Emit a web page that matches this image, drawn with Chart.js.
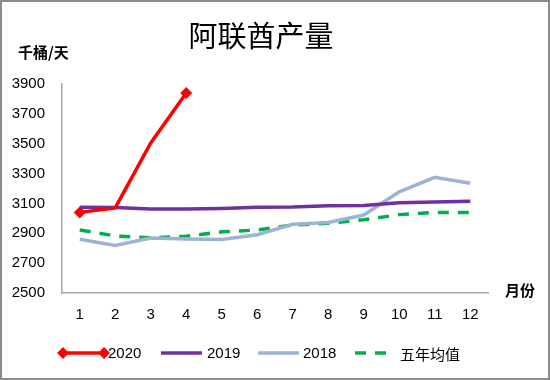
<!DOCTYPE html>
<html><head><meta charset="utf-8">
<script src="https://cdn.jsdelivr.net/npm/chart.js@4"></script>
<style>html,body{margin:0;padding:0;background:#fff}#w{width:550px;height:380px;position:relative}</style>
</head><body><div id="w"><canvas id="c" width="550" height="380"></canvas></div>
<script>
const months = ['1','2','3','4','5','6','7','8','9','10','11','12'];
const s2020 = [3040, 3070, 3505, 3840, null, null, null, null, null, null, null, null];
const s2019 = [3075, 3072, 3062, 3062, 3066, 3074, 3076, 3084, 3086, 3104, 3110, 3115];
const s2018 = [2860, 2818, 2868, 2862, 2858, 2890, 2960, 2972, 3022, 3178, 3275, 3235];
const sAvg = [2922, 2882, 2870, 2880, 2910, 2922, 2955, 2968, 2990, 3025, 3040, 3040];
const seriesNames = ['2020', '2019', '2018', '五年均值'];
const yTicks = [2500, 2700, 2900, 3100, 3300, 3500, 3700, 3900];

const CJK = '"Noto Sans CJK SC", sans-serif';
const LAT = '"Liberation Sans", Arial, sans-serif';

const deco = {
  id: 'deco',
  afterDraw(chart) {
    const ctx = chart.ctx;
    ctx.save();
    ctx.strokeStyle = '#8c8c8c'; ctx.lineWidth = 2;
    ctx.strokeRect(1, 1, 548, 378);
    ctx.fillStyle = '#000';
    ctx.textAlign = 'center'; ctx.textBaseline = 'middle';
    ctx.font = '29px ' + CJK;
    ctx.fillText('阿联酋产量', 261, 36);
    ctx.font = 'bold 15px ' + CJK;
    ctx.textAlign = 'left';
    ctx.fillText('千桶/天', 18, 52);
    ctx.fillText('月份', 505, 290);
    const ds = chart.data.datasets;
    const y = 353;
    const items = [[63, 104, 108], [161, 202, 207], [258, 299, 303], [355, 395, 400]];
    items.forEach((it, i) => {
      const d = ds[i];
      ctx.strokeStyle = d.borderColor; ctx.lineWidth = d.borderWidth;
      ctx.setLineDash(d.borderDash || []);
      ctx.lineCap = 'butt';
      ctx.beginPath(); ctx.moveTo(it[0], y); ctx.lineTo(it[1], y); ctx.stroke();
      ctx.setLineDash([]);
      if (i === 0) {
        ctx.fillStyle = d.borderColor;
        [it[0], it[1]].forEach(px => {
          ctx.beginPath(); ctx.moveTo(px, y - 6); ctx.lineTo(px + 6, y); ctx.lineTo(px, y + 6); ctx.lineTo(px - 6, y); ctx.closePath(); ctx.fill();
        });
      }
      ctx.fillStyle = '#000';
      ctx.font = (i === 3 ? '15px ' + CJK : '15px ' + LAT);
      ctx.textAlign = 'left'; ctx.textBaseline = 'middle';
      ctx.fillText(d.label, it[2], y + 1);
    });
    ctx.restore();
  }
};

new Chart(document.getElementById('c'), {
  type: 'line',
  data: {
    labels: months,
    datasets: [
      { label: seriesNames[0], data: s2020, borderColor: '#ff0000', backgroundColor: '#ff0000', borderWidth: 3.5,
        pointStyle: 'rectRot', pointRadius: [6, 0, 0, 6, 0, 0, 0, 0, 0, 0, 0, 0], pointBorderWidth: 0, tension: 0, spanGaps: false },
      { label: seriesNames[1], data: s2019, borderColor: '#7030a0', borderWidth: 3.5, pointRadius: 0, tension: 0 },
      { label: seriesNames[2], data: s2018, borderColor: '#9db3d4', borderWidth: 3.5, pointRadius: 0, tension: 0 },
      { label: seriesNames[3], data: sAvg, borderColor: '#00b050', borderWidth: 3.5, borderDash: [11, 9], pointRadius: 0, tension: 0 }
    ]
  },
  options: {
    responsive: false, animation: false,
    layout: { padding: { top: 84, right: 62, bottom: 0, left: 0 } },
    plugins: { legend: { display: false }, title: { display: false }, tooltip: { enabled: false } },
    scales: {
      x: {
        offset: true,
        grid: { display: false, drawTicks: false },
        border: { display: true, color: '#a6a6a6', width: 1.5 },
        ticks: { color: '#000', font: { family: LAT, size: 15 }, padding: 13, maxRotation: 0, autoSkip: false },
        afterFit(s) { s.height = 87; }
      },
      y: {
        min: 2500, max: 3900,
        afterBuildTicks(s) { s.ticks = yTicks.map(v => ({ value: v })); },
        grid: { display: false, drawTicks: false },
        border: { display: true, color: '#a6a6a6', width: 1.5 },
        ticks: { color: '#000', font: { family: LAT, size: 15 }, padding: 17, callback: v => String(v) },
        afterFit(s) { s.width = 62; }
      }
    }
  },
  plugins: [deco]
});
</script>
</body></html>
